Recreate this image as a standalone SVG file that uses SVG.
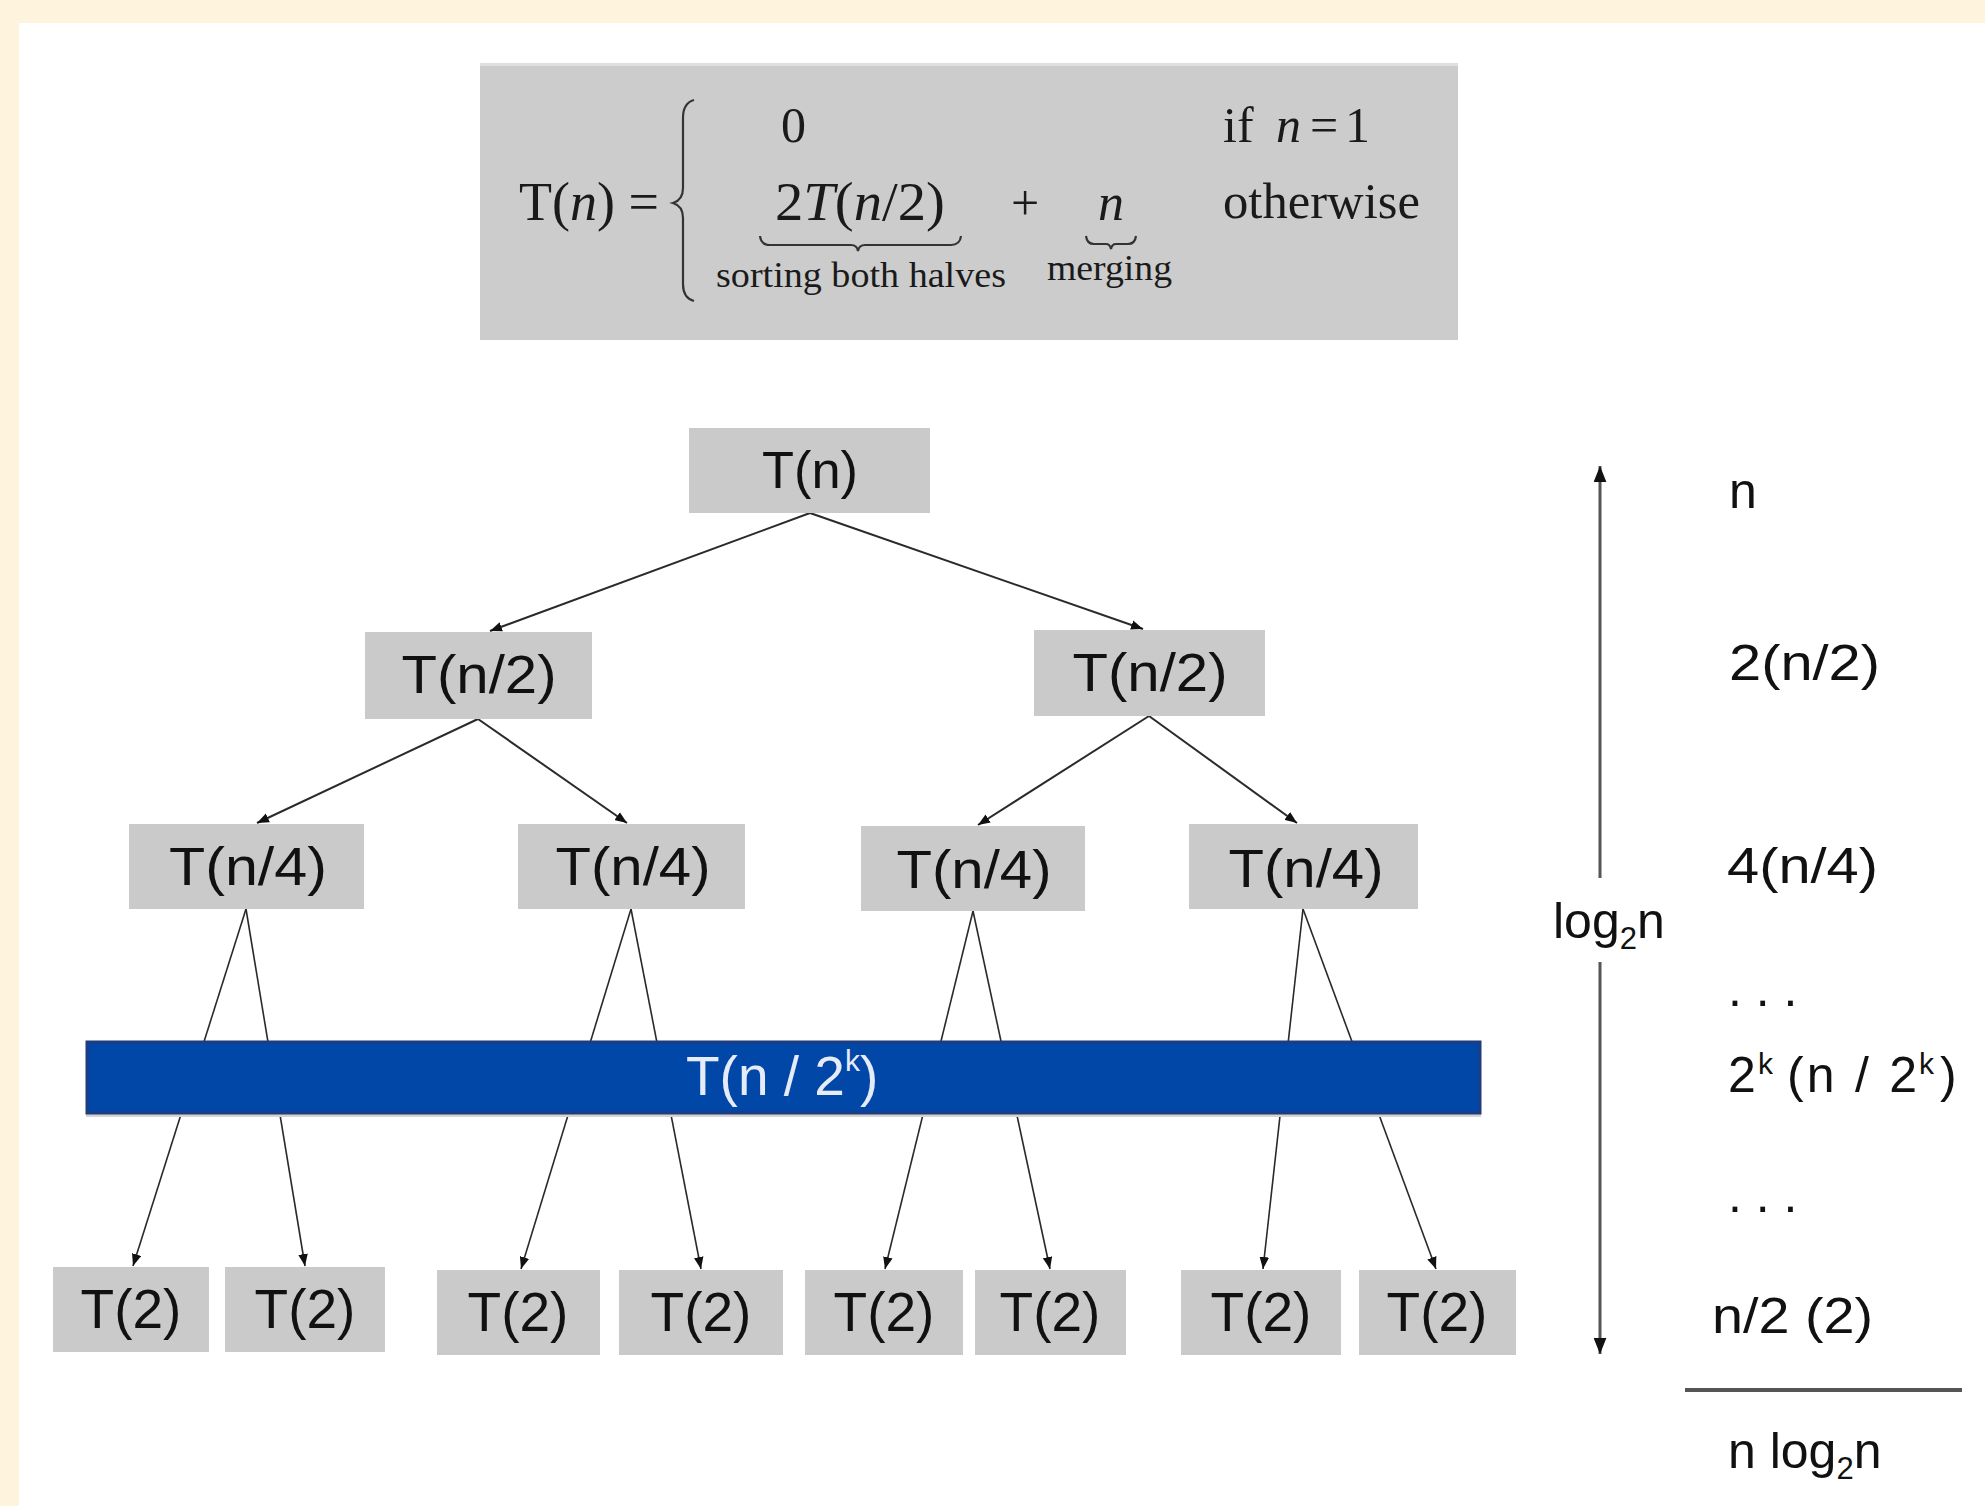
<svg xmlns="http://www.w3.org/2000/svg" width="1985" height="1506" viewBox="0 0 1985 1506">
  <defs>
    <marker id="ah" viewBox="0 0 10 8" refX="10" refY="4" markerWidth="12" markerHeight="10" markerUnits="userSpaceOnUse" orient="auto">
      <path d="M0,0 L10,4 L0,8 z" fill="#111"/>
    </marker>
    <marker id="ahBig" viewBox="0 0 10 8" refX="10" refY="4" markerWidth="16" markerHeight="13" markerUnits="userSpaceOnUse" orient="auto">
      <path d="M0,0 L10,4 L0,8 z" fill="#111"/>
    </marker>
    <style>
      .box { fill: #cacaca; }
      .nt { font-family: "Liberation Sans", Arial, sans-serif; fill: #111; text-anchor: middle; }
      .lbl { font-family: "Liberation Sans", Arial, sans-serif; fill: #111; font-size: 50px; }
      .fm { font-family: "Liberation Serif", "Times New Roman", serif; fill: #1a1a1a; }
      .it { font-style: italic; }
      .edge { stroke: #2a2a2a; stroke-width: 2; fill: none; marker-end: url(#ah); }
      .edge2 { stroke: #2a2a2a; stroke-width: 1.6; fill: none; marker-end: url(#ah); }
      .brace { stroke: #333; stroke-width: 2.2; fill: none; }
    </style>
  </defs>

  <!-- background -->
  <rect x="0" y="0" width="1985" height="1506" fill="#fef3dc"/>
  <rect x="19" y="23" width="1966" height="1483" fill="#ffffff"/>

  <!-- formula -->
  <g id="formula">
    <rect x="480" y="63" width="978" height="277" fill="#cccccc"/>
    <rect x="480" y="63" width="978" height="3" fill="#e0e0e0"/>
    <text class="fm" x="519" y="220" font-size="54">T(<tspan class="it">n</tspan>) =</text>
    <path class="brace" d="M694,100 Q683,103 683,118 L683,188 Q683,200 673,203 Q683,206 683,218 L683,284 Q683,298 694,301"/>
    <text class="fm" x="781" y="142" font-size="50">0</text>
    <text class="fm" x="1223" y="142" font-size="50">if <tspan class="it" x="1276">n</tspan><tspan x="1310">=</tspan><tspan x="1345">1</tspan></text>
    <text class="fm" x="775" y="220" font-size="54" textLength="170" lengthAdjust="spacingAndGlyphs">2<tspan class="it">T</tspan>(<tspan class="it">n</tspan>/2)</text>
    <text class="fm" x="1025" y="220" font-size="50" text-anchor="middle">+</text>
    <text class="fm it" x="1098" y="220" font-size="52">n</text>
    <text class="fm" x="1223" y="218" font-size="51" textLength="197" lengthAdjust="spacingAndGlyphs">otherwise</text>
    <path class="brace" d="M760,236 Q761,245 770,245 L851,245 Q857,245 858,251 Q859,245 865,245 L951,245 Q960,245 961,236"/>
    <path class="brace" d="M1086,236 Q1087,244 1094,244 L1106,244 Q1110,244 1111,249 Q1112,244 1116,244 L1128,244 Q1135,244 1136,236"/>
    <text class="fm" x="716" y="287" font-size="36" textLength="290" lengthAdjust="spacingAndGlyphs">sorting both halves</text>
    <text class="fm" x="1047" y="280" font-size="36" textLength="125" lengthAdjust="spacingAndGlyphs">merging</text>
  </g>

  <!-- connectors -->
  <g id="connectors">
    <path class="edge" d="M810,513 L490,631"/>
    <path class="edge" d="M810,513 L1143,629"/>
    <path class="edge" d="M478,719 L257,823"/>
    <path class="edge" d="M478,719 L627,823"/>
    <path class="edge" d="M1149,716 L978,825"/>
    <path class="edge" d="M1149,716 L1297,823"/>
    <path class="edge2" d="M246,909 L133,1266"/>
    <path class="edge2" d="M246,909 L305,1266"/>
    <path class="edge2" d="M631,909 L521,1269"/>
    <path class="edge2" d="M631,909 L701,1269"/>
    <path class="edge2" d="M973,911 L885,1269"/>
    <path class="edge2" d="M973,911 L1050,1269"/>
    <path class="edge2" d="M1303,909 L1263,1269"/>
    <path class="edge2" d="M1303,909 L1436,1269"/>
  </g>

  <!-- level 0 -->
  <g id="n-root">
    <rect class="box" x="689" y="428" width="241" height="85"/>
    <text class="nt" x="810" y="488" font-size="52" textLength="96" lengthAdjust="spacingAndGlyphs">T(n)</text>
  </g>
  <!-- level 1 -->
  <g id="n-l1a">
    <rect class="box" x="365" y="632" width="227" height="87"/>
    <text class="nt" x="479" y="693" font-size="54" textLength="155" lengthAdjust="spacingAndGlyphs">T(n/2)</text>
  </g>
  <g id="n-l1b">
    <rect class="box" x="1034" y="630" width="231" height="86"/>
    <text class="nt" x="1150" y="691" font-size="54" textLength="155" lengthAdjust="spacingAndGlyphs">T(n/2)</text>
  </g>
  <!-- level 2 -->
  <g id="n-l2a">
    <rect class="box" x="129" y="824" width="235" height="85"/>
    <text class="nt" x="248" y="885" font-size="54" textLength="158" lengthAdjust="spacingAndGlyphs">T(n/4)</text>
  </g>
  <g id="n-l2b">
    <rect class="box" x="518" y="824" width="227" height="85"/>
    <text class="nt" x="633" y="885" font-size="54" textLength="155" lengthAdjust="spacingAndGlyphs">T(n/4)</text>
  </g>
  <g id="n-l2c">
    <rect class="box" x="861" y="826" width="224" height="85"/>
    <text class="nt" x="974" y="888" font-size="54" textLength="155" lengthAdjust="spacingAndGlyphs">T(n/4)</text>
  </g>
  <g id="n-l2d">
    <rect class="box" x="1189" y="824" width="229" height="85"/>
    <text class="nt" x="1306" y="887" font-size="54" textLength="155" lengthAdjust="spacingAndGlyphs">T(n/4)</text>
  </g>

  <!-- blue level bar -->
  <g id="n-level-k">
    <rect x="86" y="1113" width="1395" height="4" fill="#d4d4d4"/>
    <rect x="87" y="1042" width="1393" height="71" fill="#0047a8" stroke="#1f3c7e" stroke-width="3"/>
    <text x="686" y="1095" font-family="Liberation Sans, Arial, sans-serif" font-size="55" fill="#e6ecf7">T(n / 2<tspan font-size="30" dy="-24">k</tspan><tspan dy="24">)</tspan></text>
  </g>

  <!-- leaves -->
  <g id="n-leaf1"><rect class="box" x="53" y="1267" width="156" height="85"/><text class="nt" x="131" y="1328" font-size="55">T(2)</text></g>
  <g id="n-leaf2"><rect class="box" x="225" y="1267" width="160" height="85"/><text class="nt" x="305" y="1328" font-size="55">T(2)</text></g>
  <g id="n-leaf3"><rect class="box" x="437" y="1270" width="163" height="85"/><text class="nt" x="518" y="1331" font-size="55">T(2)</text></g>
  <g id="n-leaf4"><rect class="box" x="619" y="1270" width="164" height="85"/><text class="nt" x="701" y="1331" font-size="55">T(2)</text></g>
  <g id="n-leaf5"><rect class="box" x="805" y="1270" width="158" height="85"/><text class="nt" x="884" y="1331" font-size="55">T(2)</text></g>
  <g id="n-leaf6"><rect class="box" x="975" y="1270" width="151" height="85"/><text class="nt" x="1050" y="1331" font-size="55">T(2)</text></g>
  <g id="n-leaf7"><rect class="box" x="1181" y="1270" width="160" height="85"/><text class="nt" x="1261" y="1331" font-size="55">T(2)</text></g>
  <g id="n-leaf8"><rect class="box" x="1359" y="1270" width="157" height="85"/><text class="nt" x="1437" y="1331" font-size="55">T(2)</text></g>

  <!-- height axis -->
  <g id="axis">
    <path d="M1600,878 L1600,466" stroke="#555" stroke-width="3" fill="none" marker-end="url(#ahBig)"/>
    <path d="M1600,962 L1600,1354" stroke="#555" stroke-width="3" fill="none" marker-end="url(#ahBig)"/>
    <text class="lbl" x="1553" y="938">log<tspan font-size="31" dy="11">2</tspan><tspan dy="-11">n</tspan></text>
  </g>

  <!-- per-level costs -->
  <g id="costs">
    <text class="lbl" x="1729" y="508">n</text>
    <text class="lbl" x="1729" y="680" textLength="151" lengthAdjust="spacingAndGlyphs">2(n/2)</text>
    <text class="lbl" x="1727" y="883" textLength="151" lengthAdjust="spacingAndGlyphs">4(n/4)</text>
    <text class="lbl" x="1728" y="1006">. . .</text>
    <text class="lbl" x="1728" y="1092">2<tspan x="1758" font-size="30" dy="-18">k</tspan><tspan x="1787" dy="18" textLength="130" lengthAdjust="spacing">(n / 2</tspan><tspan x="1919" font-size="30" dy="-18">k</tspan><tspan x="1940" dy="18">)</tspan></text>
    <text class="lbl" x="1728" y="1212">. . .</text>
    <text class="lbl" x="1712" y="1333" textLength="161" lengthAdjust="spacingAndGlyphs">n/2 (2)</text>
    <path d="M1685,1390 L1962,1390" stroke="#555" stroke-width="4"/>
    <text class="lbl" x="1728" y="1468">n log<tspan font-size="31" dy="11">2</tspan><tspan dy="-11">n</tspan></text>
  </g>
</svg>
